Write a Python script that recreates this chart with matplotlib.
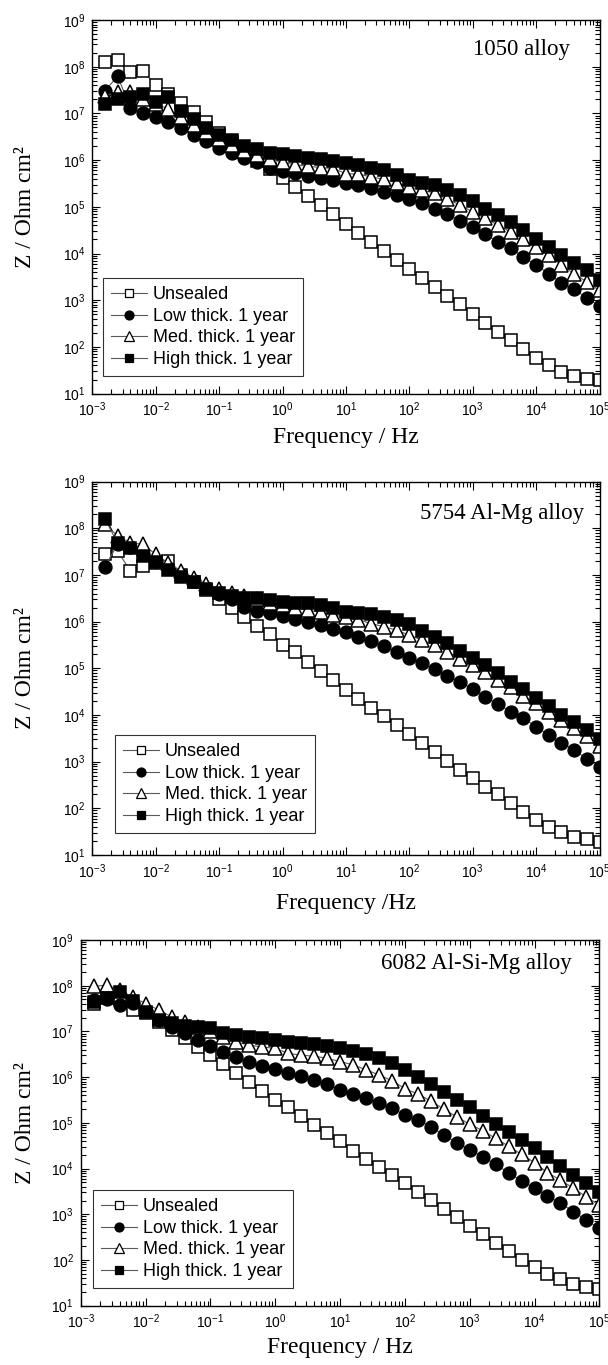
import numpy as np
import matplotlib
matplotlib.use("Agg")
import matplotlib.pyplot as plt
from matplotlib.ticker import LogLocator, NullFormatter
from matplotlib.lines import Line2D

plt.rcParams['font.family'] = ['Liberation Sans', 'DejaVu Sans']
plt.rcParams['mathtext.fontset'] = 'custom'
plt.rcParams['mathtext.rm'] = 'Liberation Sans'
plt.rcParams['mathtext.it'] = 'Liberation Sans:italic'
plt.rcParams['mathtext.bf'] = 'Liberation Sans:bold'

# frequencies (Hz), 5 points per decade
freq = [1.58e-3, 2.51e-3, 3.98e-3, 6.31e-3, 1.0e-2, 1.58e-2, 2.51e-2, 3.98e-2, 6.31e-2, 1.0e-1,
        1.58e-1, 2.51e-1, 3.98e-1, 6.31e-1, 1.0e0, 1.58e0, 2.51e0, 3.98e0, 6.31e0, 1.0e1,
        1.58e1, 2.51e1, 3.98e1, 6.31e1, 1.0e2, 1.58e2, 2.51e2, 3.98e2, 6.31e2, 1.0e3,
        1.58e3, 2.51e3, 3.98e3, 6.31e3, 1.0e4, 1.58e4, 2.51e4, 3.98e4, 6.31e4, 1.0e5]

series_labels = ['Unsealed', 'Low thick. 1 year', 'Med. thick. 1 year', 'High thick. 1 year']

# log10 |Z| (Ohm cm2)
# --- 1050 alloy
a1050_unsealed = [8.11, 8.14, 7.89, 7.91, 7.60, 7.42, 7.23, 7.03, 6.81, 6.59, 6.39, 6.18, 5.98, 5.80, 5.62, 5.42, 5.23, 5.04, 4.84, 4.63,
                  4.43, 4.24, 4.06, 3.86, 3.66, 3.48, 3.29, 3.09, 2.91, 2.71, 2.51, 2.32, 2.14, 1.95, 1.77, 1.62, 1.46, 1.37, 1.32, 1.29]
a1050_low = [7.48, 7.80, 7.11, 7.01, 6.92, 6.81, 6.69, 6.54, 6.41, 6.26, 6.16, 6.04, 5.96, 5.84, 5.76, 5.73, 5.67, 5.62, 5.57, 5.50,
             5.46, 5.41, 5.32, 5.25, 5.16, 5.09, 4.96, 4.84, 4.70, 4.57, 4.41, 4.25, 4.11, 3.93, 3.75, 3.57, 3.37, 3.23, 3.05, 2.87]
a1050_med = [7.38, 7.45, 7.45, 7.30, 7.20, 7.10, 6.92, 6.75, 6.60, 6.45, 6.32, 6.20, 6.10, 6.02, 5.95, 5.90, 5.87, 5.84, 5.82, 5.71,
             5.70, 5.64, 5.59, 5.51, 5.43, 5.36, 5.29, 5.16, 5.04, 4.89, 4.75, 4.61, 4.46, 4.30, 4.14, 3.96, 3.75, 3.57, 3.39, 3.21]
a1050_high = [7.21, 7.30, 7.36, 7.41, 7.25, 7.36, 7.05, 6.87, 6.69, 6.54, 6.43, 6.31, 6.23, 6.16, 6.12, 6.09, 6.05, 6.03, 5.98, 5.93,
              5.89, 5.84, 5.79, 5.68, 5.57, 5.50, 5.46, 5.36, 5.25, 5.13, 4.96, 4.82, 4.68, 4.50, 4.32, 4.14, 3.96, 3.80, 3.64, 3.44]
# --- 5754 Al-Mg alloy
a5754_unsealed = [7.44, 7.51, 7.09, 7.19, 7.26, 7.31, 7.00, 6.85, 6.68, 6.48, 6.30, 6.10, 5.91, 5.73, 5.51, 5.34, 5.14, 4.94, 4.74, 4.54,
                  4.34, 4.16, 3.98, 3.79, 3.59, 3.41, 3.21, 3.01, 2.82, 2.66, 2.46, 2.30, 2.11, 1.93, 1.75, 1.61, 1.50, 1.39, 1.34, 1.27]
a5754_low = [7.18, 7.66, 7.59, 7.45, 7.30, 7.15, 7.00, 6.87, 6.72, 6.59, 6.48, 6.31, 6.23, 6.19, 6.12, 6.05, 6.00, 5.93, 5.84, 5.77,
             5.68, 5.59, 5.48, 5.36, 5.23, 5.11, 4.98, 4.84, 4.70, 4.56, 4.39, 4.23, 4.07, 3.93, 3.75, 3.57, 3.41, 3.25, 3.06, 2.88]
a5754_med = [8.09, 7.84, 7.69, 7.66, 7.44, 7.26, 7.09, 6.94, 6.81, 6.71, 6.62, 6.55, 6.48, 6.41, 6.35, 6.30, 6.25, 6.20, 6.15, 6.09,
             6.04, 5.96, 5.89, 5.82, 5.71, 5.61, 5.50, 5.36, 5.21, 5.07, 4.93, 4.75, 4.59, 4.41, 4.25, 4.07, 3.89, 3.73, 3.54, 3.34]
a5754_high = [8.21, 7.68, 7.57, 7.41, 7.28, 7.11, 6.96, 6.84, 6.71, 6.62, 6.55, 6.51, 6.50, 6.46, 6.43, 6.41, 6.39, 6.36, 6.29, 6.21,
              6.18, 6.16, 6.09, 6.04, 5.94, 5.80, 5.68, 5.54, 5.37, 5.23, 5.07, 4.89, 4.71, 4.56, 4.36, 4.20, 4.01, 3.84, 3.68, 3.49]
# --- 6082 Al-Si-Mg alloy
a6082_unsealed = [7.60, 7.75, 7.70, 7.47, 7.40, 7.20, 7.04, 6.85, 6.66, 6.48, 6.28, 6.09, 5.90, 5.70, 5.51, 5.34, 5.15, 4.95, 4.77, 4.60,
                  4.39, 4.22, 4.04, 3.86, 3.68, 3.49, 3.31, 3.11, 2.93, 2.74, 2.57, 2.38, 2.20, 2.01, 1.85, 1.69, 1.58, 1.47, 1.41, 1.36]
a6082_low = [7.69, 7.70, 7.58, 7.63, 7.45, 7.25, 7.10, 6.96, 6.82, 6.68, 6.54, 6.43, 6.34, 6.24, 6.17, 6.08, 6.02, 5.93, 5.84, 5.72,
             5.63, 5.54, 5.43, 5.32, 5.17, 5.06, 4.92, 4.73, 4.57, 4.41, 4.26, 4.09, 3.91, 3.73, 3.57, 3.40, 3.24, 3.06, 2.87, 2.69]
a6082_med = [7.99, 8.01, 7.91, 7.75, 7.61, 7.47, 7.32, 7.21, 7.10, 7.00, 6.88, 6.77, 6.70, 6.66, 6.63, 6.52, 6.48, 6.46, 6.41, 6.34,
             6.27, 6.16, 6.05, 5.92, 5.75, 5.63, 5.48, 5.30, 5.13, 4.97, 4.83, 4.66, 4.49, 4.31, 4.13, 3.91, 3.75, 3.57, 3.38, 3.20]
a6082_high = [7.65, 7.74, 7.87, 7.67, 7.43, 7.25, 7.18, 7.12, 7.09, 7.07, 6.97, 6.92, 6.88, 6.85, 6.82, 6.77, 6.74, 6.72, 6.68, 6.63,
              6.58, 6.51, 6.41, 6.30, 6.16, 6.01, 5.85, 5.68, 5.51, 5.34, 5.15, 4.97, 4.79, 4.62, 4.44, 4.25, 4.06, 3.86, 3.68, 3.48]

W, H = 608, 1365

# marker styles: (marker, facecolor, size)
styles = [('s', 'white', 8.6), ('o', 'black', 9.2), ('^', 'white', 9.8), ('s', 'black', 8.6)]

# panel layout in pixels: left, top, right, bottom
panels = [
    dict(box=(92.3, 20.0, 599.5, 393.6), name='1050 alloy', name_xy=(570, 50),
         xlabel='Frequency / Hz', xlabel_y=438, leg=(103, 376),
         data=[a1050_unsealed, a1050_low, a1050_med, a1050_high]),
    dict(box=(92.3, 481.7, 599.5, 855.0), name='5754 Al-Mg alloy', name_xy=(584, 514),
         xlabel='Frequency /Hz', xlabel_y=903, leg=(115, 833),
         data=[a5754_unsealed, a5754_low, a5754_med, a5754_high]),
    dict(box=(80.9, 940.0, 599.3, 1305.7), name='6082 Al-Si-Mg alloy', name_xy=(572, 964),
         xlabel='Frequency / Hz', xlabel_y=1347, leg=(93, 1288),
         data=[a6082_unsealed, a6082_low, a6082_med, a6082_high]),
]

fig = plt.figure(figsize=(W / 100, H / 100), dpi=100)

for p in panels:
    l, t, r, b = p['box']
    ax = fig.add_axes([l / W, (H - b) / H, (r - l) / W, (b - t) / H])
    for vals, (mk, fc, ms) in zip(p['data'], styles):
        ax.plot(freq, 10 ** np.array(vals), color='0.35', lw=0.8, marker=mk,
                markerfacecolor=fc, markeredgecolor='black', markeredgewidth=1.1,
                markersize=ms)
    ax.set_xscale('log')
    ax.set_yscale('log')
    ax.set_xlim(1e-3, 1e5)
    ax.set_ylim(1e1, 1e9)
    ax.xaxis.set_major_locator(LogLocator(base=10, numticks=20))
    ax.yaxis.set_major_locator(LogLocator(base=10, numticks=20))
    ax.xaxis.set_minor_locator(LogLocator(base=10, subs=np.arange(2, 10), numticks=100))
    ax.yaxis.set_minor_locator(LogLocator(base=10, subs=np.arange(2, 10), numticks=100))
    ax.xaxis.set_minor_formatter(NullFormatter())
    ax.yaxis.set_minor_formatter(NullFormatter())
    ax.tick_params(which='both', direction='in', top=True, right=True, width=0.8,
                   labelsize=10, pad=5)
    ax.tick_params(which='major', length=6)
    ax.tick_params(which='minor', length=3.5)
    for s in ax.spines.values():
        s.set_linewidth(1.0)

    nx, ny = p['name_xy']
    fig.text(nx / W, (H - ny) / H, p['name'], ha='right', va='center',
             fontsize=16.5, family='Liberation Serif')

    fig.text((l + r) / 2 / W, (H - p['xlabel_y']) / H, p['xlabel'], ha='center',
             va='center', fontsize=17, family='Liberation Serif')
    fig.text(26 / W, (H - (t + b) / 2) / H, 'Z / Ohm cm\u00b2', rotation=90,
             ha='center', va='center', fontsize=17, family='Liberation Serif')

    handles = [Line2D([], [], color='0.35', lw=0.8, marker=mk, markerfacecolor=fc,
                      markeredgecolor='black', markeredgewidth=0.9, markersize=ms * 0.7)
               for (mk, fc, ms) in styles]
    lx, ly = p['leg']
    leg = ax.legend(handles, series_labels, loc='lower left',
                    bbox_to_anchor=((lx - l) / (r - l), (b - ly) / (b - t)),
                    borderaxespad=0, fontsize=13, frameon=True, fancybox=False,
                    edgecolor='black', handlelength=2.0, handletextpad=0.3,
                    labelspacing=0.25, borderpad=0.45)
    leg.get_frame().set_linewidth(0.8)

fig.savefig('out.png', dpi=100)
